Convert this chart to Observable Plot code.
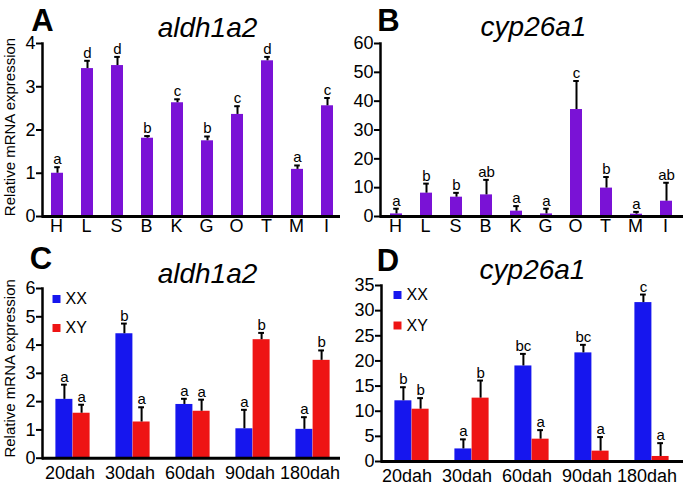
<!DOCTYPE html>
<html><head><meta charset="utf-8">
<script src="https://cdn.jsdelivr.net/npm/d3@7"></script>
<script src="https://cdn.jsdelivr.net/npm/@observablehq/plot@0.6"></script>
<style>
html,body{margin:0;padding:0;background:#fff;}
#fig{position:relative;width:685px;height:485px;overflow:hidden;background:#fff;font-family:"Liberation Sans",Arial,sans-serif;}
.panel{position:absolute;}
</style></head><body>
<div id="fig">
  <div class="panel" id="pA" style="left:0px;top:0px"></div>
  <div class="panel" id="pB" style="left:340px;top:0px"></div>
  <div class="panel" id="pC" style="left:0px;top:235px"></div>
  <div class="panel" id="pD" style="left:340px;top:235px"></div>
</div>
<script>
// ---- data ----
const tissues = ["H","L","S","B","K","G","O","T","M","I"];
const aldhTissueMean = [1.0, 3.42, 3.49, 1.81, 2.63, 1.75, 2.36, 3.6, 1.09, 2.56];
const aldhTissueErr  = [0.14, 0.18, 0.2, 0.05, 0.08, 0.1, 0.19, 0.09, 0.09, 0.18];
const aldhTissueSig  = ["a","d","d","b","c","b","c","d","a","c"];
const cypTissueMean  = [0.9, 8.1, 6.7, 7.5, 1.85, 0.9, 37.1, 9.85, 0.8, 5.3];
const cypTissueErr   = [1.8, 3.3, 1.5, 5.2, 1.75, 1.8, 9.9, 3.85, 0.8, 6.4];
const cypTissueSig   = ["a","b","b","ab","a","a","c","b","a","ab"];

const stages = ["20dah","30dah","60dah","90dah","180dah"];
const sexes = ["XX","XY"];
const aldhXXMean = [2.08, 4.4, 1.9, 1.04, 1.02];
const aldhXXErr  = [0.52, 0.36, 0.2, 0.67, 0.43];
const aldhXXSig  = ["a","b","a","a","a"];
const aldhXYMean = [1.59, 1.28, 1.66, 4.19, 3.46];
const aldhXYErr  = [0.3, 0.52, 0.41, 0.24, 0.35];
const aldhXYSig  = ["a","a","a","b","b"];
const cypXXMean  = [12.07, 2.5, 19.0, 21.6, 31.6];
const cypXXErr   = [2.7, 1.9, 2.4, 1.6, 1.6];
const cypXXSig   = ["b","a","bc","bc","c"];
const cypXYMean  = [10.4, 12.6, 4.44, 2.06, 1.0];
const cypXYErr   = [2.2, 3.5, 1.8, 2.8, 2.65];
const cypXYSig   = ["b","b","a","a","a"];

const ticksAldhTissue = [0,1,2,3,4];
const ticksCypTissue = [0,10,20,30,40,50,60];
const ticksAldhStage = [0,1,2,3,4,5,6];
const ticksCypStage = [0,5,10,15,20,25,30,35];

const yLabelText = "Relative mRNA expression";
const purple = "#7a12d6", blue = "#1616ee", red = "#ee1414";
const FONT = "Liberation Sans, Arial, sans-serif";

function rowsOf(keys, means, errs, sigs) {
  return keys.map((k, i) => ({key: k, mean: means[i], top: means[i] + errs[i], sig: sigs[i]}));
}

function commonMarks(o) {
  const m = [
    Plot.ruleY([0], {strokeWidth: 3}),
    Plot.frame({anchor: "left", strokeWidth: 2.5}),
    Plot.axisY({ticks: o.yTicks, tickFormat: d => String(d), tickSize: 6, tickPadding: 1, fontSize: 18, strokeWidth: 2, label: null}),
    Plot.axisX({tickSize: 0, tickPadding: o.xPad, fontSize: 18, label: null, dx: o.xLabelDx}),
    Plot.text([o.letter], {x: null, y: null, text: d => d, frameAnchor: "top-left", dx: o.letterDx, dy: o.letterDy,
      fontSize: 31, fontWeight: "bold", textAnchor: "middle", lineAnchor: "bottom"}),
    Plot.text([o.title], {x: null, y: null, text: d => d, frameAnchor: "top-left", dx: o.titleDx, dy: o.titleDy,
      fontSize: 28, fontStyle: "italic", textAnchor: "middle", lineAnchor: "bottom"})
  ];
  if (o.yLabel) m.push(Plot.text([o.yLabel], {x: null, y: null, text: d => d, frameAnchor: "left", rotate: -90,
      dx: -32, dy: o.yLabelDy, fontSize: 15, textAnchor: "middle", lineAnchor: "middle"}));
  return m;
}

function tissuePanel(o) {
  const rows = rowsOf(tissues, o.means, o.errs, o.sigs);
  const marks = [
    Plot.barY(rows, {x: "key", y: "mean", fill: purple}),
    Plot.ruleX(rows, {x: "key", y1: "mean", y2: "top", strokeWidth: 2}),
    Plot.tickY(rows, {x: "key", y: "top", strokeWidth: 2, insetLeft: 3.2, insetRight: 3.2}),
    Plot.text(rows, {x: "key", y: "top", text: "sig", lineAnchor: "bottom", dy: -3, fontSize: 15}),
    ...commonMarks(o)
  ];
  return Plot.plot({
    width: o.width, height: o.height,
    marginLeft: o.ml, marginRight: o.mr, marginTop: o.mt, marginBottom: o.mb,
    style: {fontFamily: FONT, background: "white", overflow: "visible"},
    x: {type: "band", domain: tissues, paddingInner: 0.59, paddingOuter: 0.295},
    y: {domain: o.yDomain},
    marks
  });
}

function stagePanel(o) {
  const xx = rowsOf(stages, o.xxMean, o.xxErr, o.xxSig);
  const xy = rowsOf(stages, o.xyMean, o.xyErr, o.xySig);
  const half = 8.6;
  const series = [[xx, blue, -half], [xy, red, half]];
  const marks = [];
  for (const [rows, col, off] of series) {
    marks.push(
      Plot.barY(rows, {x: "key", y: "mean", fill: col, dx: off}),
      Plot.ruleX(rows, {x: "key", y1: "mean", y2: "top", strokeWidth: 2, dx: off}),
      Plot.tickY(rows, {x: "key", y: "top", strokeWidth: 2, insetLeft: 5.6, insetRight: 5.6, dx: off}),
      Plot.text(rows, {x: "key", y: "top", text: "sig", lineAnchor: "bottom", dy: -3, dx: off, fontSize: 15})
    );
  }
  // legend
  sexes.forEach((s, i) => {
    marks.push(
      Plot.dot([s], {x: null, y: null, frameAnchor: "top-left", dx: o.legDx, dy: o.legDy + i * o.legGap,
        symbol: "square", r: 4.5, fill: i === 0 ? blue : red, stroke: null}),
      Plot.text([s], {x: null, y: null, text: d => d, frameAnchor: "top-left", dx: o.legDx + 9, dy: o.legDy + i * o.legGap,
        fontSize: 16, textAnchor: "start", lineAnchor: "middle"})
    );
  });
  marks.push(...commonMarks(o));
  return Plot.plot({
    width: o.width, height: o.height,
    marginLeft: o.ml, marginRight: o.mr, marginTop: o.mt, marginBottom: o.mb,
    style: {fontFamily: FONT, background: "white", overflow: "visible"},
    x: {type: "band", domain: stages, paddingInner: 0.714, paddingOuter: 0.357},
    y: {domain: o.yDomain},
    marks
  });
}

document.getElementById("pA").append(tissuePanel({
  means: aldhTissueMean, errs: aldhTissueErr, sigs: aldhTissueSig,
  yDomain: [0, 4], yTicks: ticksAldhTissue,
  width: 343, height: 242, ml: 42, mr: 0, mt: 43, mb: 26, xPad: 3, xLabelDx: -1,
  letter: "A", letterDx: 0, letterDy: -13,
  title: "aldh1a2", titleDx: 165, titleDy: -7, yLabel: yLabelText, yLabelDy: -3
}));
document.getElementById("pB").append(tissuePanel({
  means: cypTissueMean, errs: cypTissueErr, sigs: cypTissueSig,
  yDomain: [0, 60], yTicks: ticksCypTissue,
  width: 345, height: 242, ml: 40, mr: 2, mt: 43, mb: 26, xPad: 3, xLabelDx: -1,
  letter: "B", letterDx: 8, letterDy: -13,
  title: "cyp26a1", titleDx: 153, titleDy: -8, yLabel: null
}));
document.getElementById("pC").append(stagePanel({
  xxMean: aldhXXMean, xxErr: aldhXXErr, xxSig: aldhXXSig,
  xyMean: aldhXYMean, xyErr: aldhXYErr, xySig: aldhXYSig,
  yDomain: [0, 6], yTicks: ticksAldhStage,
  width: 343, height: 250, ml: 42, mr: 0, mt: 53, mb: 27.3, xPad: 8, xLabelDx: -3,
  legDx: 14, legDy: 10.5, legGap: 29,
  letter: "C", letterDx: -1.5, letterDy: -20,
  title: "aldh1a2", titleDx: 165, titleDy: -6, yLabel: yLabelText, yLabelDy: -5
}));
document.getElementById("pD").append(stagePanel({
  xxMean: cypXXMean, xxErr: cypXXErr, xxSig: cypXXSig,
  xyMean: cypXYMean, xyErr: cypXYErr, xySig: cypXYSig,
  yDomain: [0, 35], yTicks: ticksCypStage,
  width: 345, height: 250, ml: 41, mr: 2, mt: 50, mb: 24, xPad: 8, xLabelDx: -5,
  legDx: 16, legDy: 9.5, legGap: 30.5,
  letter: "D", letterDx: 6.5, letterDy: -15,
  title: "cyp26a1", titleDx: 151, titleDy: -7, yLabel: null
}));
</script>
</body></html>
